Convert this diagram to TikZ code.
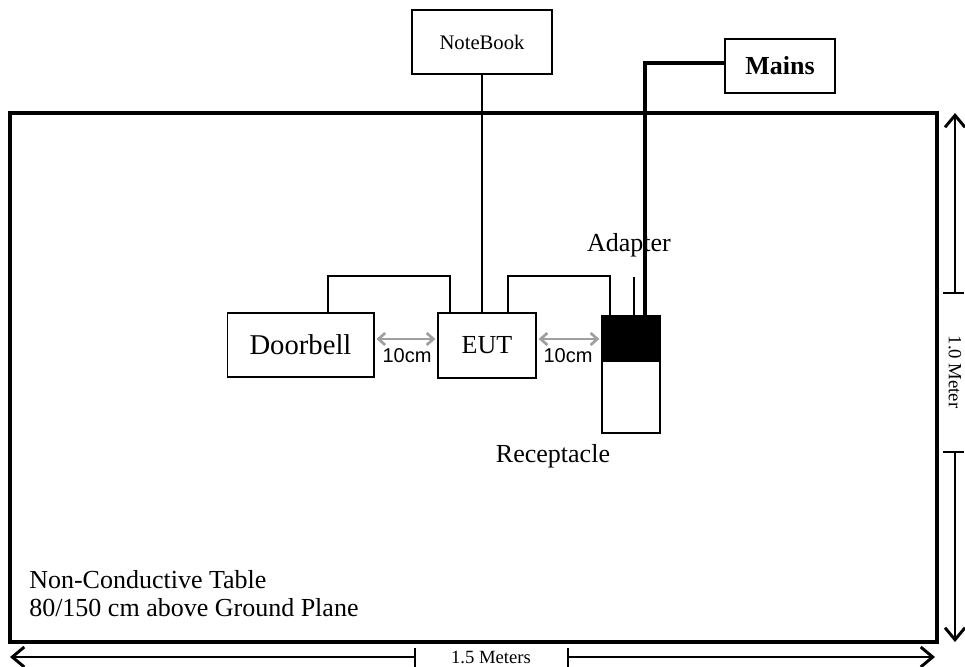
\documentclass[tikz,border=0pt]{standalone}
\usepackage{fontspec}
\setmainfont{Liberation Serif}
\newfontfamily\arialfont{Liberation Sans}
\usetikzlibrary{arrows.meta}
\begin{document}
\begin{tikzpicture}[x=0.75pt,y=-0.75pt,
  box/.style={draw,line width=1pt,rectangle,inner sep=0pt,align=center},
  wire/.style={line width=1pt},
  mainswire/.style={line width=2.3pt},
  tbl/.style={line width=2.3pt},
  dimline/.style={line width=1.5pt},
  dimtick/.style={line width=1pt},
  bigtip/.tip={Straight Barb[length=9pt,width=15pt,line width=2.2pt]},
  gaparrow/.style={draw=gray!75,line width=2pt,{Straight Barb[length=5pt,width=9pt,line width=2pt]}-{Straight Barb[length=5pt,width=9pt,line width=2pt]}},
  lbl/.style={inner sep=0pt,font=\fontsize{19.5pt}{22pt}\selectfont},
  gaplbl/.style={inner sep=0pt,font=\arialfont\fontsize{15pt}{17pt}\selectfont},
  dimlbl/.style={inner sep=0pt,fill=white,font=\fontsize{14pt}{16pt}\selectfont}]
\useasboundingbox (0,0) rectangle (965,667);

% table
\coordinate (tl) at (10,113);
\coordinate (br) at (937,642);
\draw[tbl] (tl) rectangle (br);

% boxes
\node[box,minimum width=105pt,minimum height=48pt,font=\fontsize{15.5pt}{18pt}\selectfont] (notebook) at (482,42) {NoteBook};
\node[box,minimum width=82.5pt,minimum height=40.5pt,font=\bfseries\fontsize{19.5pt}{22pt}\selectfont] (mains) at (780,66) {Mains};
\node[box,minimum width=110pt,minimum height=48pt,font=\fontsize{21.5pt}{24pt}\selectfont] (doorbell) at (300.5,345) {Doorbell};
\node[box,minimum width=73.5pt,minimum height=48.75pt,font=\fontsize{19.5pt}{22pt}\selectfont] (eut) at (487,345.5) {EUT};
\node[box,minimum width=43.5pt,minimum height=87.75pt] (recept) at (631,374.5) {};
\fill (602,316) rectangle (660,362);
\draw[line width=1pt] (recept.north west) rectangle (recept.south east);

% wires
\draw[wire] (notebook.south) -- (notebook.south |- eut.north);
\coordinate (d1) at (328,276);
\coordinate (d2) at (450,276);
\draw[wire] (doorbell.north -| d1) -- (d1) -- (d2) -- (eut.north -| d2);
\coordinate (e1) at (508,276);
\coordinate (e2) at (610,276);
\draw[wire] (eut.north -| e1) -- (e1) -- (e2) -- (recept.north -| e2);
\coordinate (a1) at (634,277);
\draw[wire] (recept.north -| a1) -- (a1);
\coordinate (m1) at (645,63);
\draw[mainswire] (mains.west |- m1) -- (m1) -- (recept.north -| m1);

% gap arrows
\draw[gaparrow] (doorbell.east |- 0,339) ++(2,0) -- ([xshift=-1.5pt]eut.west |- 0,339);
\draw[gaparrow] (eut.east |- 0,339) ++(2,0) -- ([xshift=-1.5pt]recept.west |- 0,339);
\node[gaplbl] (g1) at (407,356) {10cm};
\node[gaplbl] (g2) at (568,356) {10cm};

% labels
\node[lbl] (adapter) at (629,245) {Adapter};
\node[lbl] (receptlbl) at (553,456) {Receptacle};
\node[lbl,anchor=west] (t1) at (29,580) {Non-Conductive Table};
\node[lbl,anchor=west] (t2) at (29,608) {80/150 cm above Ground Plane};

% vertical dimension
\coordinate (vt) at (955,113);
\coordinate (vm1) at (955,293);
\coordinate (vm2) at (955,452);
\coordinate (vb) at (955,642);
\draw[dimline,{bigtip}-] (vt) -- (vm1);
\draw[dimline,-{bigtip}] (vm2) -- (vb);
\draw[dimtick] ([xshift=-9pt]vm1) -- ([xshift=7pt]vm1);
\draw[dimtick] ([xshift=-9pt]vm2) -- ([xshift=7pt]vm2);
\node[dimlbl,rotate=-90] (vlbl) at (955,372) {1.0 Meter};

% horizontal dimension
\coordinate (hl) at (10,657);
\coordinate (hm1) at (415,657);
\coordinate (hm2) at (568,657);
\coordinate (hr) at (935,657);
\draw[dimline,{bigtip}-] (hl) -- (hm1);
\draw[dimline,-{bigtip}] (hm2) -- (hr);
\draw[dimtick] ([yshift=-9pt]hm1) -- ([yshift=7pt]hm1);
\draw[dimtick] ([yshift=-9pt]hm2) -- ([yshift=7pt]hm2);
\node[dimlbl] (hlbl) at (491,657) {1.5 Meters};
\end{tikzpicture}
\end{document}
